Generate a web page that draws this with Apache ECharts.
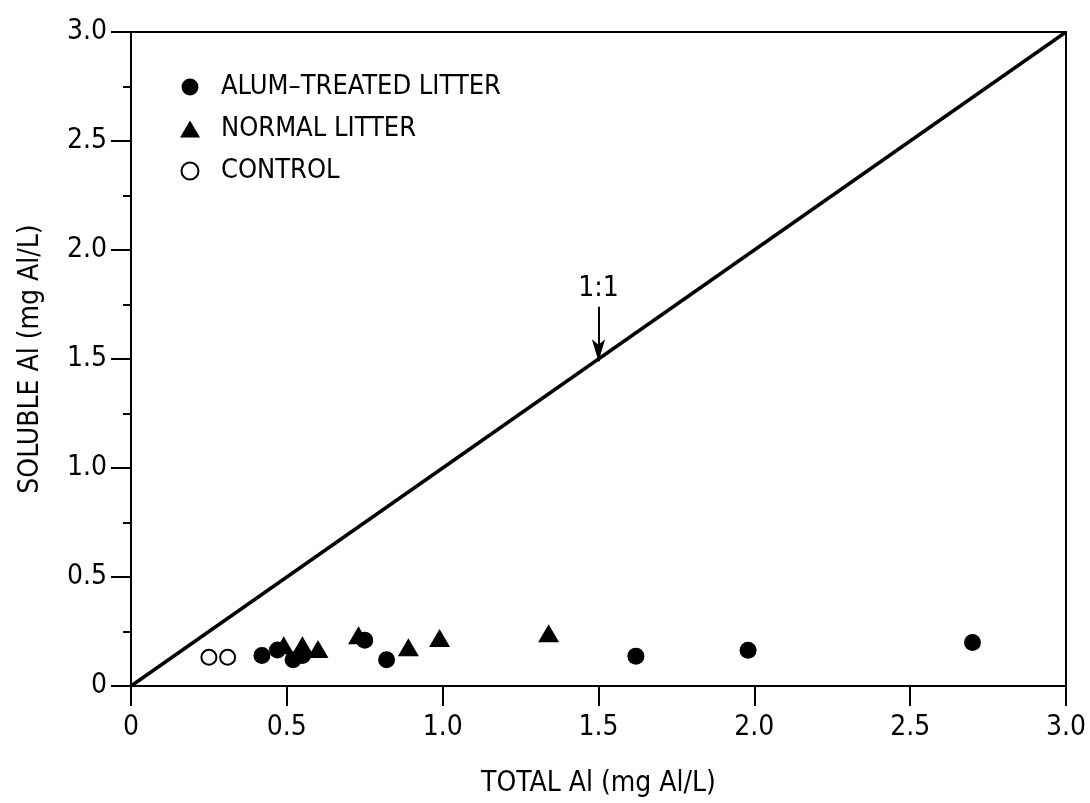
<!DOCTYPE html>
<html>
<head>
<meta charset="utf-8">
<script src="https://cdn.jsdelivr.net/npm/echarts@6/dist/echarts.min.js"></script>
<style>
html,body{margin:0;padding:0;background:#fff;}
#chart{width:1090px;height:803px;}
</style>
</head>
<body>
<div id="chart"></div>
<script>
// ---- data ----
const alumX = [0.42, 0.47, 0.52, 0.55, 0.75, 0.82, 1.62, 1.98, 2.70];
const alumY = [0.14, 0.165, 0.12, 0.14, 0.21, 0.12, 0.137, 0.164, 0.20];
const normalX = [0.49, 0.55, 0.60, 0.73, 0.89, 0.99, 1.34];
const normalY = [0.187, 0.187, 0.17, 0.233, 0.178, 0.22, 0.242];
const controlX = [0.25, 0.31];
const controlY = [0.132, 0.132];
const oneToOneLine = [[0, 0], [3, 3]];
const arrowFrom = [1.5, 1.74];
const arrowTo = [1.5, 1.49];
const arrowLabel = '1:1';
const seriesNames = ['ALUM\u2013TREATED LITTER', 'NORMAL LITTER', 'CONTROL'];
const xTickValues = [0, 0.5, 1.0, 1.5, 2.0, 2.5, 3.0];
const xTickLabels = ['0', '0.5', '1.0', '1.5', '2.0', '2.5', '3.0'];
const yTickValues = [0, 0.5, 1.0, 1.5, 2.0, 2.5, 3.0];
const yTickLabels = ['0', '0.5', '1.0', '1.5', '2.0', '2.5', '3.0'];
const xTitle = 'TOTAL Al (mg Al/L)';
const yTitle = 'SOLUBLE Al (mg Al/L)';

const FONT = '"Liberation Sans Narrow", "DejaVu Sans Condensed", "Arial Narrow", sans-serif';
const zip = (xs, ys) => xs.map((x, i) => [x, ys[i]]);
const fmt = (vals, labels) => v => {
  const i = vals.findIndex(t => Math.abs(t - v) < 1e-6);
  return i >= 0 ? labels[i] : '';
};

const chart = echarts.init(document.getElementById('chart'), null, {renderer: 'canvas'});
chart.setOption({
  backgroundColor: '#fff',
  animation: false,
  textStyle: {fontFamily: FONT, color: '#000'},
  grid: {left: 131, right: 24, top: 32, bottom: 114, show: true, borderColor: '#000', borderWidth: 2, backgroundColor: 'transparent'},
  legend: {
    data: seriesNames,
    orient: 'vertical',
    left: 175,
    top: 66,
    itemWidth: 20,
    itemHeight: 17,
    itemGap: 10,
    selectedMode: false,
    textStyle: {fontFamily: FONT, fontSize: 27, color: '#000', lineHeight: 32, padding: [0, 0, 0, 16]}
  },
  xAxis: {
    type: 'value', min: 0, max: 3, interval: 0.5,
    name: xTitle, nameLocation: 'middle', nameGap: 84,
    nameTextStyle: {fontFamily: FONT, fontSize: 28, color: '#000'},
    axisLine: {show: true, onZero: false, lineStyle: {color: '#000', width: 2}},
    axisTick: {show: true, inside: false, length: 20, lineStyle: {color: '#000', width: 2}},
    minorTick: {show: false},
    splitLine: {show: false},
    axisLabel: {margin: 28, fontFamily: FONT, fontSize: 28, color: '#000', formatter: fmt(xTickValues, xTickLabels)}
  },
  yAxis: {
    type: 'value', min: 0, max: 3, interval: 0.5,
    name: yTitle, nameLocation: 'middle', nameGap: 86, nameRotate: 90,
    nameTextStyle: {fontFamily: FONT, fontSize: 28, color: '#000'},
    axisLine: {show: true, onZero: false, lineStyle: {color: '#000', width: 2}},
    axisTick: {show: true, inside: false, length: 20, lineStyle: {color: '#000', width: 2}},
    minorTick: {show: true, splitNumber: 2, length: 8, lineStyle: {color: '#000', width: 2}},
    splitLine: {show: false},
    minorSplitLine: {show: false},
    axisLabel: {margin: 24, fontFamily: FONT, fontSize: 28, color: '#000', formatter: fmt(yTickValues, yTickLabels)}
  },
  series: [
    {
      name: '1:1', type: 'line', data: oneToOneLine, symbol: 'none', silent: true, z: 1,
      lineStyle: {color: '#000', width: 3.5},
      markLine: {
        silent: true,
        symbol: ['none', 'arrow'],
        symbolSize: [10, 22],
        lineStyle: {color: '#000', width: 2, type: 'solid'},
        label: {show: true, position: 'start', formatter: arrowLabel, fontFamily: FONT, fontSize: 28, color: '#000', distance: 4},
        data: [[{coord: arrowFrom}, {coord: arrowTo}]]
      }
    },
    {
      name: seriesNames[0], type: 'scatter', data: zip(alumX, alumY), symbol: 'circle', symbolSize: 17, z: 3,
      itemStyle: {color: '#000', opacity: 1}
    },
    {
      name: seriesNames[1], type: 'scatter', data: zip(normalX, normalY), symbol: 'triangle', symbolSize: [21, 18], z: 3,
      itemStyle: {color: '#000', opacity: 1}
    },
    {
      name: seriesNames[2], type: 'scatter', data: zip(controlX, controlY), symbol: 'circle', symbolSize: 15, z: 3,
      itemStyle: {color: '#fff', borderColor: '#000', borderWidth: 2, opacity: 1}
    }
  ]
});
</script>
</body>
</html>
